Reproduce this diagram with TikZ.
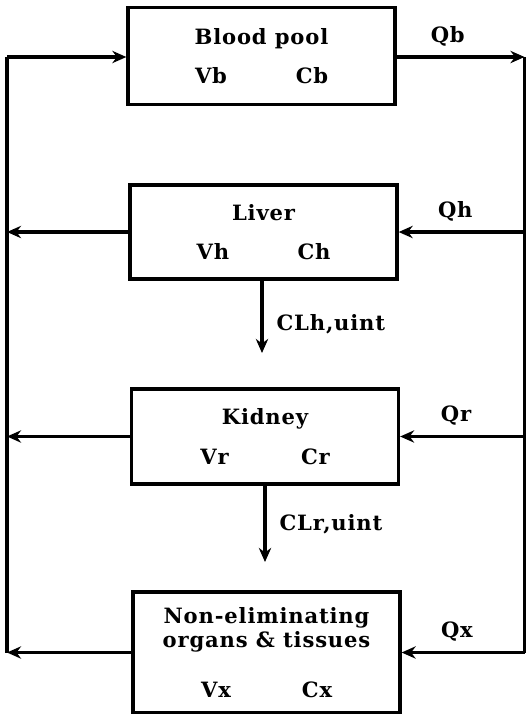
\documentclass[tikz,border=0pt]{standalone}
\usepackage{fontspec}
\setmainfont[LetterSpace=4]{DejaVu Serif}
\usetikzlibrary{arrows.meta,positioning}

\newcommand\vc[2]{\makebox[2.02cm]{#1}\makebox[2.02cm]{#2}}
\tikzset{
  organ/.style={draw, line width=1.9pt, minimum width=5.34cm, inner sep=0pt, align=center},
  flow/.style={line width=1.9pt, -{Stealth[length=8pt,width=7pt]}},
  bus/.style={line width=1.9pt}
}

\begin{document}
\begin{tikzpicture}[x=0.02cm, y=-0.02cm, font=\fontsize{12}{13.6}\selectfont\bfseries]
\useasboundingbox (0,0) rectangle (527,714);
% compartments
\node[organ, minimum height=1.94cm] (blood) at (261.5,56) {Blood pool\\[9pt]\vc{Vb}{Cb}};
\node[organ, minimum height=1.88cm] (liver) at (263.5,232) {Liver\\[9pt]\vc{Vh}{Ch}};
\node[organ, minimum height=1.90cm] (kidney) at (265,436.5) {Kidney\\[9pt]\vc{Vr}{Cr}};
\node[organ, minimum height=2.42cm] (nonelim) at (266.5,652.5) {Non-eliminating\\organs \& tissues\\[15pt]\vc{Vx}{Cx}};
% the two buses
\coordinate (rb) at (524.5,57);
\coordinate (lb) at (7,57);
\draw[flow] (blood.east |- rb) -- node[above=2pt, pos=0.4] {Qb} (rb);
\draw[bus] (rb) -- (rb |- nonelim.east);
\draw[bus] (lb |- nonelim.west) -- (lb);
\draw[flow] (lb) -- (blood.west |- lb);
\foreach \o/\q in {liver/Qh, kidney/Qr, nonelim/Qx} {
  \draw[flow] (\o.east -| rb) -- node[above=2pt, pos=0.55] {\q} (\o.east);
  \draw[flow] (\o.west) -- (\o.west -| lb);
}
% clearance
\coordinate (lh) at (262,353);
\coordinate (lr) at (265,562);
\draw[flow] (liver.south -| lh) -- node[right=4pt, pos=0.6] {CLh,uint} (lh);
\draw[flow] (kidney.south -| lr) -- node[right=4pt, pos=0.5] {CLr,uint} (lr);
\end{tikzpicture}
\end{document}
